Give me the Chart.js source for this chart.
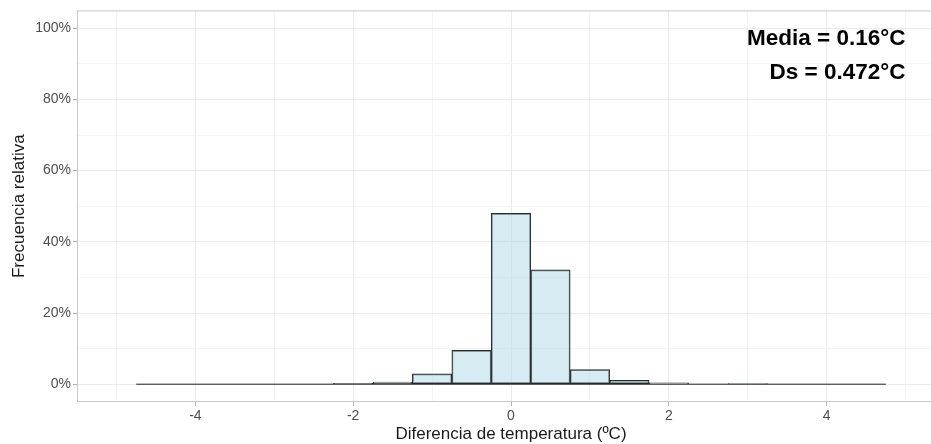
<!DOCTYPE html>
<html lang="es">
<head>
  <meta charset="UTF-8" />
  <title>Diferencia de temperatura</title>
  <script src="https://cdn.jsdelivr.net/npm/chart.js"></script>
  <style>
    html, body { margin: 0; padding: 0; background: #fff; overflow: hidden; }
    #wrap { width: 931px; height: 444px; overflow: hidden; position: relative; }
    #hist { position: absolute; left: 0; top: 0; }
  </style>
</head>
<body>
  <div id="wrap"><canvas id="hist" width="960" height="444"></canvas></div>
  <script>
    // histogram bins (centre, width 0.5) and relative frequency in %
    const binCenters = [-4.5, -4, -3.5, -3, -2.5, -2, -1.5, -1, -0.5, 0, 0.5, 1, 1.5, 2, 2.5, 3, 3.5, 4, 4.5];
    const relFreq    = [0, 0, 0, 0, 0, 0.25, 0.6, 2.9, 9.5, 48.0, 32.1, 4.1, 1.1, 0.35, 0, 0.1, 0, 0, 0];
    const binWidth = 0.5;

    const xGrid = [-5, -4, -3, -2, -1, 0, 1, 2, 3, 4, 5];
    const xLabels = [-4, -2, 0, 2, 4];
    const yGrid = [0, 10, 20, 30, 40, 50, 60, 70, 80, 90, 100];
    const yLabels = [0, 20, 40, 60, 80, 100];
    const statsText = ['Media = 0.16°C', 'Ds = 0.472°C'];

    const baseline = [
      { x: binCenters[0] - binWidth / 2, y: 0 },
      { x: binCenters[binCenters.length - 1] + binWidth / 2, y: 0 }
    ];

    const isMajor = (c, list) => !!c.tick && list.includes(c.tick.value);

    const panelPlugin = {
      id: 'panel',
      afterDatasetsDraw(chart) {
        const { ctx, chartArea: a } = chart;
        ctx.save();
        ctx.strokeStyle = '#c8c8c8';
        ctx.lineWidth = 1;
        ctx.strokeRect(a.left + 0.5, a.top + 0.5, a.right - a.left - 1, a.bottom - a.top - 1);
        ctx.restore();
      },
      afterDraw(chart) {
        const { ctx, scales } = chart;
        const x = scales.x.getPixelForValue(5);
        const top = scales.y.getPixelForValue(100);
        ctx.save();
        ctx.font = 'bold 22.5px "Liberation Sans", Arial, sans-serif';
        ctx.fillStyle = '#000';
        ctx.textAlign = 'right';
        ctx.textBaseline = 'alphabetic';
        ctx.fillText(statsText[0], x, top + 17);
        ctx.fillText(statsText[1], x, top + 51);
        ctx.restore();
      }
    };

    Chart.defaults.font.family = '"Liberation Sans", Arial, sans-serif';

    new Chart(document.getElementById('hist').getContext('2d'), {
      type: 'bar',
      data: {
        datasets: [
          {
            type: 'line',
            data: baseline,
            borderColor: '#222222',
            borderWidth: 1,
            pointRadius: 0,
            order: 0
          },
          {
            data: binCenters.map((c, i) => ({ x: c, y: relFreq[i] })),
            backgroundColor: 'rgba(173, 216, 230, 0.5)',
            borderColor: '#2b2b2b',
            borderWidth: 1,
            borderSkipped: false,
            barPercentage: 1,
            categoryPercentage: 1,
            order: 1
          }
        ]
      },
      options: {
        responsive: false,
        devicePixelRatio: 1,
        animation: false,
        layout: { padding: { top: 8, right: 15, left: 0, bottom: 0 } },
        plugins: { legend: { display: false }, tooltip: { enabled: false } },
        scales: {
          x: {
            type: 'linear',
            min: -5.5,
            max: 5.5,
            offset: false,
            afterBuildTicks: s => { s.ticks = xGrid.map(v => ({ value: v })); },
            afterFit: s => { s.height = 42; },
            border: { display: false },
            grid: {
              offset: false,
              color: c => isMajor(c, xLabels) ? '#ebebeb' : '#f4f4f4',
              tickColor: c => isMajor(c, xLabels) ? '#b3b3b3' : 'rgba(0,0,0,0)',
              tickLength: 4
            },
            ticks: {
              autoSkip: false,
              maxRotation: 0,
              padding: 2,
              color: '#4d4d4d',
              font: { size: 14 },
              callback: v => xLabels.includes(v) ? String(v) : ''
            },
            title: {
              display: true,
              text: 'Diferencia de temperatura (ºC)',
              color: '#1a1a1a',
              font: { size: 17, lineHeight: 1.1 },
              padding: { top: 0, bottom: 0 }
            }
          },
          y: {
            min: -5,
            max: 105,
            afterBuildTicks: s => { s.ticks = yGrid.map(v => ({ value: v })); },
            afterFit: s => { s.width = 77; },
            border: { display: false },
            grid: {
              color: c => isMajor(c, yLabels) ? '#ebebeb' : '#f4f4f4',
              tickColor: c => isMajor(c, yLabels) ? '#b3b3b3' : 'rgba(0,0,0,0)',
              tickLength: 4
            },
            ticks: {
              padding: 2,
              color: '#4d4d4d',
              font: { size: 14 },
              callback: v => yLabels.includes(v) ? v + '%' : ''
            },
            title: {
              display: true,
              text: 'Frecuencia relativa',
              color: '#1a1a1a',
              font: { size: 17 },
              padding: { top: 9, bottom: 0 }
            }
          }
        }
      },
      plugins: [panelPlugin]
    });
  </script>
</body>
</html>
